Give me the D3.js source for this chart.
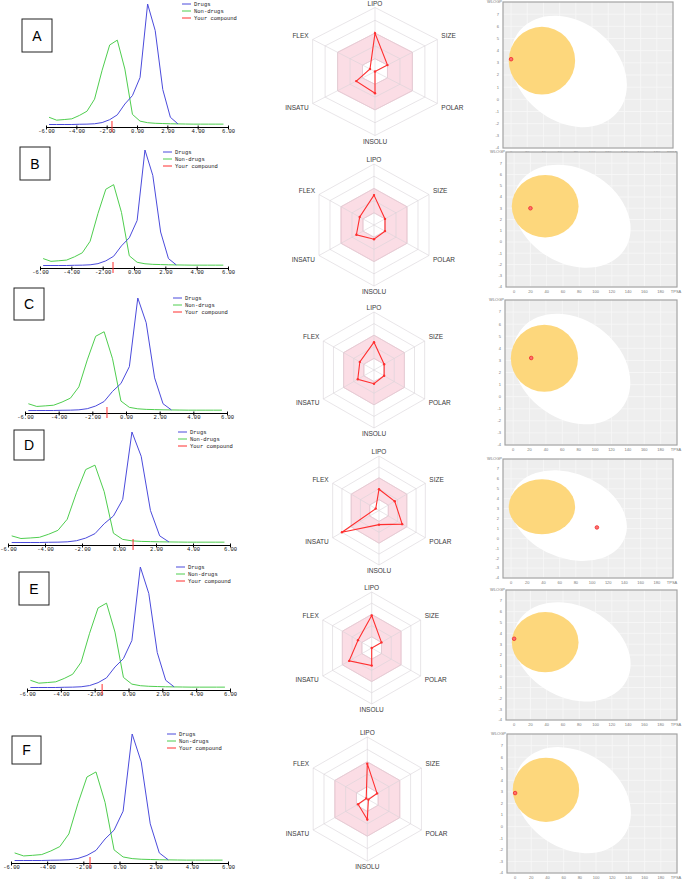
<!DOCTYPE html>
<html>
<head>
<meta charset="utf-8">
<script src="https://cdn.jsdelivr.net/npm/d3@7"></script>
<style>
	body { margin: 0; background: #fff; }
	svg { display: block; font-family: "Liberation Sans", Arial, sans-serif; }
	.mono { font-family: "Liberation Mono", "DejaVu Sans Mono", monospace; }
</style>
</head>
<body>
<svg id="figure" width="685" height="879"></svg>
<script>
// ---- data ----
const panelNames = ["A", "B", "C", "D", "E", "F"];

// drug-likeness score distributions (relative height, peak = 100)
const scoreBins = [-5.8, -5.3, -4.8, -4.3, -3.8, -3.3, -2.8, -2.3, -1.8, -1.3, -0.8, -0.3, 0.2, 0.7, 1.2, 1.7, 2.2, 2.7, 3.2, 3.7, 4.2, 4.7, 5.2, 5.7];
const drugsCurve = [0, 0, 0, 0, 0.2, 0.3, 0.6, 1.6, 4, 8, 17, 24, 39, 100, 78, 29, 6, 0.5];
const nonDrugsCurve = [6, 3.6, 4.1, 4.7, 7.5, 11, 21, 45, 66, 70, 46, 8.4, 2.8, 1.5, 1, 0.8, 0.6, 0.5, 0.4, 0.3, 0.3, 0.3, 0.3, 0.3];
const compoundScores = [-1.65, -1.34, -1.13, 0.76, -1.56, -1.63];
const scoreTicks = [-6, -4, -2, 0, 2, 4, 6];
const legendNames = ["Drugs", "Non-drugs", "Your compound"];

// bioavailability radar (0..5 grid levels, pink zone = levels 1..3)
const radarAxes = ["LIPO", "SIZE", "POLAR", "INSOLU", "INSATU", "FLEX"];
const radarValues = [
	[3.0, 1.0, 0.0, 1.7, 1.5, 0.4],
	[2.45, 1.0, 1.0, 1.17, 1.6, 1.3],
	[2.4, 1.0, 1.0, 1.18, 1.6, 1.4],
	[1.95, 1.7, 2.5, 1.3, 4.0, 0.35],
	[2.9, 1.0, 0.0, 1.57, 2.3, 1.4],
	[2.85, 0.9, 0.1, 1.65, 0.85, 0.1]
];

// BOILED-Egg
const tpsaValues = [0, 20, 22, 106, 0, 0];
const wlogpValues = [3.3, 3.0, 3.2, 1.1, 3.5, 2.9];
const tpsaTicks = [0, 20, 40, 60, 80, 100, 120, 140, 160, 180];
const wlogpTicks = [-4, -3, -2, -1, 0, 1, 2, 3, 4, 5, 6, 7];
const whiteEgg = {cx: 71.05, cy: 2.29, u: [60.3, -3.36], v: [-39.3, -3.11]};
const yolk = {cx: 38.1, cy: 3.18, u: [41.0, 0], v: [0, 2.78]};

// ---- layout of each row ----
const distLayout = [
	{x0: 46, x1: 228, axisY: 127, peakY: 4, legX: 182, legY: 4, box: [22, 19, 30, 33]},
	{x0: 40, x1: 228, axisY: 268, peakY: 150, legX: 163, legY: 152, box: [20, 147, 30, 33]},
	{x0: 25, x1: 227, axisY: 413, peakY: 298, legX: 173, legY: 298, box: [14, 288, 30, 32]},
	{x0: 8, x1: 230, axisY: 545, peakY: 432, legX: 178, legY: 432, box: [14, 430, 30, 30]},
	{x0: 27, x1: 230, axisY: 690, peakY: 567, legX: 176, legY: 567, box: [19, 572, 30, 33]},
	{x0: 11, x1: 228, axisY: 863, peakY: 734, legX: 167, legY: 734, box: [12, 736, 29, 28]}
];
const radarLayout = [
	{cx: 375, cy: 71.5, ux: 14.4, uy: 12.8},
	{cx: 374, cy: 225, ux: 12.7, uy: 12.2},
	{cx: 374, cy: 370, ux: 11.7, uy: 11.6},
	{cx: 379, cy: 510.5, ux: 10.7, uy: 10.9},
	{cx: 371.7, cy: 648, ux: 11.3, uy: 11.2},
	{cx: 367.3, cy: 799, ux: 12.5, uy: 12.4}
];
const eggLayout = [
	{x0: 503, x1: 673, y0: 2, y1: 148},
	{x0: 506, x1: 677, y0: 152, y1: 287},
	{x0: 505, x1: 677, y0: 300, y1: 445},
	{x0: 503, x1: 673, y0: 459, y1: 578},
	{x0: 506, x1: 677, y0: 590, y1: 720},
	{x0: 507, x1: 677, y0: 734, y1: 873}
];

const blue = "#4b4bdc", green = "#4fce4f", red = "#ff2f2f";

function whenDocumentLoaded(action) {
	if (document.readyState === "loading") {
		document.addEventListener("DOMContentLoaded", action);
	} else {
		action();
	}
}

whenDocumentLoaded(() => {
	const svg = d3.select("#figure");
	panelNames.forEach((name, i) => {
		drawDistribution(svg.append("g"), i);
		drawRadar(svg.append("g"), i);
		drawEgg(svg.append("g"), i);
	});
});

function drawDistribution(g, i) {
	const L = distLayout[i];
	const x = d3.scaleLinear().domain([-6, 6]).range([L.x0, L.x1]);
	const y = d3.scaleLinear().domain([0, 100]).range([L.axisY - 2.5, L.peakY]);

	// letter box
	g.append("rect")
		.attr("x", L.box[0]).attr("y", L.box[1])
		.attr("width", L.box[2]).attr("height", L.box[3])
		.attr("fill", "none").attr("stroke", "#222").attr("stroke-width", 1);
	g.append("text")
		.attr("x", L.box[0] + L.box[2] / 2)
		.attr("y", L.box[1] + L.box[3] / 2 + 5)
		.attr("text-anchor", "middle")
		.attr("font-size", 14)
		.text(panelNames[i]);

	const line = d3.line().x(d => x(d[0])).y(d => y(d[1]));

	g.append("path")
		.datum(nonDrugsCurve.map((v, k) => [scoreBins[k], v]))
		.attr("d", line)
		.attr("fill", "none").attr("stroke", green).attr("stroke-width", 1);
	g.append("path")
		.datum(drugsCurve.map((v, k) => [scoreBins[k], v]))
		.attr("d", line)
		.attr("fill", "none").attr("stroke", blue).attr("stroke-width", 1);

	const axis = d3.axisBottom(x)
		.tickValues(scoreTicks)
		.tickFormat(d => d.toFixed(2))
		.tickSizeInner(2.5)
		.tickSizeOuter(0);
	const ax = g.append("g")
		.attr("transform", `translate(0,${L.axisY})`)
		.call(axis);
	ax.select(".domain").attr("stroke", "#000");
	ax.selectAll(".tick line").attr("stroke", "#000").attr("y1", -1.5);
	ax.selectAll(".tick text")
		.attr("class", "mono")
		.attr("font-size", 5.5)
		.attr("fill", "#111")
		.attr("dy", "0.55em")
		.attr("y", 3);
	ax.attr("font-family", null).attr("font-size", null);

	// compound marker
	g.append("line")
		.attr("x1", x(compoundScores[i])).attr("x2", x(compoundScores[i]))
		.attr("y1", L.axisY - 6).attr("y2", L.axisY + 5)
		.attr("stroke", red).attr("stroke-width", 1);

	const legend = g.selectAll(".leg")
		.data(legendNames)
		.join("g")
		.attr("transform", (d, k) => `translate(${L.legX},${L.legY + k * 7})`);
	legend.append("line")
		.attr("x1", 0).attr("x2", 9)
		.attr("stroke", (d, k) => [blue, green, red][k])
		.attr("stroke-width", 1);
	legend.append("text")
		.attr("class", "mono")
		.attr("x", 12).attr("y", 2)
		.attr("font-size", 5.5)
		.attr("fill", "#222")
		.text(d => d);
}

function drawRadar(g, i) {
	const L = radarLayout[i];
	const angle = k => -Math.PI / 2 + k * Math.PI / 3;
	const rx = d3.scaleLinear().domain([0, 5]).range([0, 5 * L.ux]);
	const ry = d3.scaleLinear().domain([0, 5]).range([0, 5 * L.uy]);
	const pt = (k, v) => [L.cx + Math.cos(angle(k)) * rx(v), L.cy + Math.sin(angle(k)) * ry(v)];
	const hex = lvl => radarAxes.map((a, k) => pt(k, lvl));
	const closed = d3.line().curve(d3.curveLinearClosed);

	// optimal zone
	g.append("path")
		.attr("d", closed(hex(3)) + closed(hex(1)))
		.attr("fill-rule", "evenodd")
		.attr("fill", "#fbdde5")
		.attr("stroke", "#f4b9c8")
		.attr("stroke-width", 0.8);

	[1, 2, 3, 4, 5].forEach(lvl => {
		g.append("path")
			.attr("d", closed(hex(lvl)))
			.attr("fill", "none")
			.attr("stroke", "#d9d4d8")
			.attr("stroke-width", 0.6);
	});
	radarAxes.forEach((a, k) => {
		const p = pt(k, 5);
		g.append("line")
			.attr("x1", L.cx).attr("y1", L.cy)
			.attr("x2", p[0]).attr("y2", p[1])
			.attr("stroke", "#d9d4d8").attr("stroke-width", 0.6);
	});

	const labelOffset = [[0, -4, "middle"], [4, -4, "start"], [4, 4, "start"], [0, 6, "middle"], [-4, 4, "end"], [-4, -4, "end"]];
	radarAxes.forEach((a, k) => {
		const p = pt(k, 5);
		g.append("text")
			.attr("x", p[0] + labelOffset[k][0])
			.attr("y", p[1] + labelOffset[k][1])
			.attr("dy", "0.35em")
			.attr("text-anchor", labelOffset[k][2])
			.attr("font-size", 6.5)
			.attr("fill", "#3a3a3a")
			.text(a);
	});

	const pts = radarValues[i].map((v, k) => pt(k, v));
	g.append("path")
		.attr("d", closed(pts))
		.attr("fill", "none")
		.attr("stroke", red)
		.attr("stroke-width", 1.1);
	g.selectAll(".vtx")
		.data(pts)
		.join("circle")
		.attr("cx", d => d[0]).attr("cy", d => d[1])
		.attr("r", 1.2)
		.attr("fill", red);
}

function drawEgg(g, i) {
	const L = eggLayout[i];
	const x = d3.scaleLinear().domain([-10, 200]).range([L.x0, L.x1]);
	const y = d3.scaleLinear().domain([-4, 8]).range([L.y1, L.y0]);
	const kx = x(1) - x(0), ky = y(1) - y(0);

	g.append("rect")
		.attr("x", L.x0).attr("y", L.y0)
		.attr("width", L.x1 - L.x0).attr("height", L.y1 - L.y0)
		.attr("fill", "#eeeeee");

	g.selectAll(".vgrid")
		.data(tpsaTicks.concat([200]))
		.join("line")
		.attr("x1", d => x(d)).attr("x2", d => x(d))
		.attr("y1", L.y0).attr("y2", L.y1)
		.attr("stroke", "#f7f7f7").attr("stroke-width", 0.8);
	g.selectAll(".hgrid")
		.data(wlogpTicks)
		.join("line")
		.attr("x1", L.x0).attr("x2", L.x1)
		.attr("y1", d => y(d)).attr("y2", d => y(d))
		.attr("stroke", "#f7f7f7").attr("stroke-width", 0.8);

	// egg white and yolk as transformed unit circles
	[[whiteEgg, "#ffffff"], [yolk, "#fdd77c"]].forEach(([e, color]) => {
		g.append("ellipse")
			.attr("cx", 0).attr("cy", 0).attr("rx", 1).attr("ry", 1)
			.attr("transform", `matrix(${kx * e.u[0]},${ky * e.u[1]},${kx * e.v[0]},${ky * e.v[1]},${x(e.cx)},${y(e.cy)})`)
			.attr("fill", color);
	});

	g.append("rect")
		.attr("x", L.x0).attr("y", L.y0)
		.attr("width", L.x1 - L.x0).attr("height", L.y1 - L.y0)
		.attr("fill", "none")
		.attr("stroke", "#a3a3a3")
		.attr("stroke-width", 1.2);

	g.append("circle")
		.attr("cx", x(tpsaValues[i])).attr("cy", y(wlogpValues[i]))
		.attr("r", 1.8)
		.attr("fill", "#ff7070")
		.attr("stroke", "#ee2a2a")
		.attr("stroke-width", 0.8);

	g.selectAll(".ylab")
		.data(wlogpTicks)
		.join("text")
		.attr("x", L.x0 - 4).attr("y", d => y(d))
		.attr("dy", "0.35em")
		.attr("text-anchor", "end")
		.attr("font-size", 4)
		.attr("fill", "#777")
		.text(d => d);
	g.selectAll(".xlab")
		.data(tpsaTicks)
		.join("text")
		.attr("x", d => x(d)).attr("y", L.y1 + 6)
		.attr("text-anchor", "middle")
		.attr("font-size", 4)
		.attr("fill", "#777")
		.text(d => d);
	g.append("text")
		.attr("x", x(200) - 1).attr("y", L.y1 + 6)
		.attr("text-anchor", "middle")
		.attr("font-size", 4)
		.attr("fill", "#777")
		.text("TPSA");
	g.append("text")
		.attr("x", L.x0 - 1).attr("y", L.y0 + 1)
		.attr("text-anchor", "end")
		.attr("font-size", 4)
		.attr("fill", "#777")
		.text("WLOGP");
}
</script>
</body>
</html>
